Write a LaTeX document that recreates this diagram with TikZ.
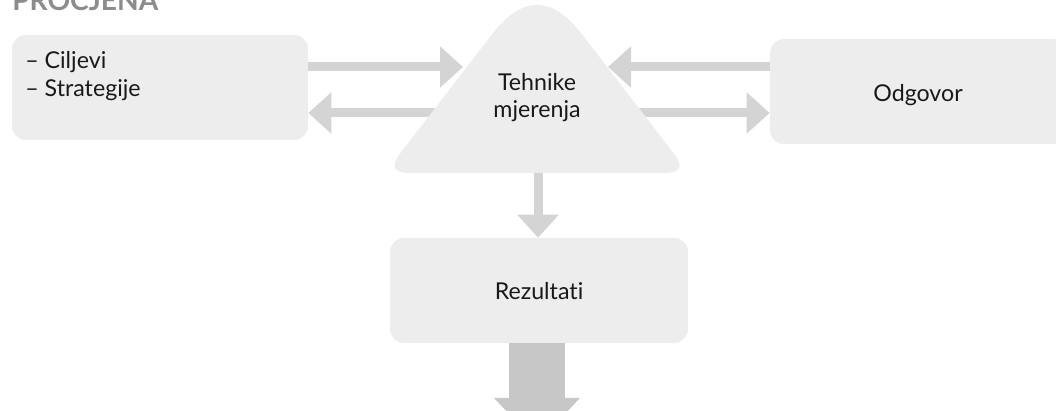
\documentclass[tikz,border=0pt]{standalone}
\usepackage{fontspec}
\setmainfont{Lato}[Ligatures=NoCommon]
\usetikzlibrary{arrows.meta,calc}

\tikzset{
	box/.style={fill=black!7, rounded corners=0.35cm, minimum width=7.4cm, minimum height=2.625cm, inner sep=0pt},
	flow/.style={draw=black!17, line width=0.225cm, -{Triangle[length=0.575cm,width=1cm]}},
	bigflow/.style={draw=black!22, line width=1.4cm, -{Triangle[length=1.15cm,width=2.075cm]}},
	txt/.style={font=\fontsize{16.5}{19}\selectfont, text=black!90, inner sep=0pt},
}

\begin{document}
\begin{tikzpicture}[x=0.025cm, y=-0.025cm]
		%%%%% START %%%%%
		\useasboundingbox (0,0) rectangle (1056,411);
		
		\node[anchor=base west, inner sep=0pt, text=black!45, font=\fontsize{20}{24}\selectfont\bfseries] (naslov) at (12,11) {PROCJENA};
		
		\node[box] (ciljevi) at (160,87.5) {};
		\node[box] (odgovor) at (918,91.5) {};
		\node[box, minimum width=7.45cm] (rezultati) at (539,290.5) {};
		
		\coordinate (tin-l) at (463,67);
		\coordinate (tout-l) at (440,113);
		\coordinate (tin-r) at (608,67);
		\coordinate (tout-r) at (635,113);
		\coordinate (tout-d) at (538,168);
		\coordinate (kraj) at (537,444);
		
		% arrows in and out of the triangle
		\draw[flow] (ciljevi.east |- tin-l) -- (tin-l);
		\draw[flow] (tout-l) -- (ciljevi.east |- tout-l);
		\draw[flow] (odgovor.west |- tin-r) -- (tin-r);
		\draw[flow] (tout-r) -- (odgovor.west |- tout-r);
		\draw[flow] (tout-d) -- (tout-d |- rezultati.north);
		\draw[bigflow] (kraj |- rezultati.south) -- (kraj);
		
		% triangle, big round top and small round base corners
		\fill[black!7] (410,173) .. controls (393.3,173) and (390.1,166.4) .. (400.3,153.2)
			-- (492.3,34) .. controls (522.1,-4.7) and (551.9,-4.7) .. (581.7,34)
			-- (673.7,153.2) .. controls (683.9,166.4) and (680.7,173) .. (664,173) -- cycle;
		
		\node[txt, anchor=base west] (cilj1) at (25,69) {– Ciljevi};
		\node[txt, anchor=base west] (cilj2) at (25,97) {– Strategije};
		\node[txt, anchor=base] (teh1) at (537,91) {Tehnike};
		\node[txt, anchor=base] (teh2) at (537,118) {mjerenja};
		\node[txt, anchor=base] (odg) at (918,102) {Odgovor};
		\node[txt, anchor=base] (rez) at (539,300) {Rezultati};
		
		%%%%% END %%%%%
\end{tikzpicture}
\end{document}
